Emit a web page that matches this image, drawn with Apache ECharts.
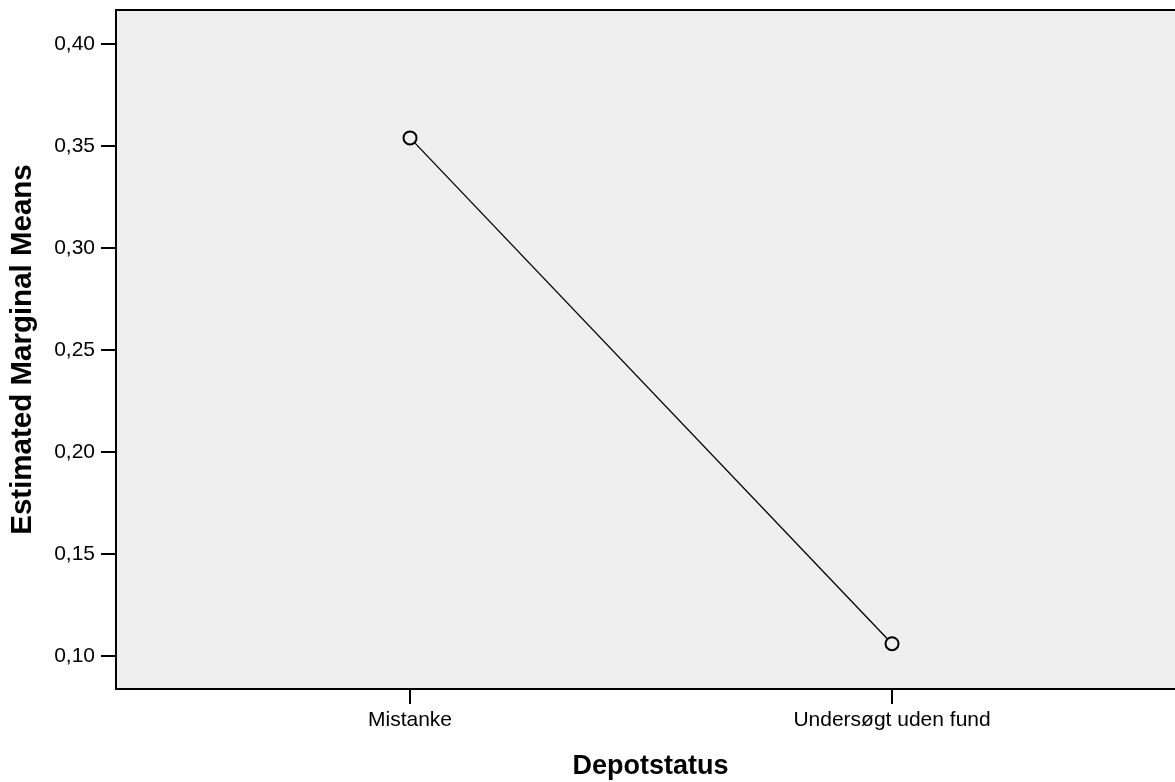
<!DOCTYPE html>
<html>
<head>
<meta charset="utf-8">
<script src="https://cdn.jsdelivr.net/npm/echarts@6/dist/echarts.min.js"></script>
<style>html,body{margin:0;padding:0;background:#fff;}#c{width:1175px;height:782px;}</style>
</head>
<body>
<div id="c"></div>
<script>
const categories = ['Mistanke', 'Undersøgt uden fund'];
const means = [0.354, 0.106];
const yTicks = [0.10, 0.15, 0.20, 0.25, 0.30, 0.35, 0.40];
const xTitle = 'Depotstatus';
const yTitle = 'Estimated Marginal Means';

const catPos = categories.map((c, i) => i + 1);
const data = means.map((v, i) => [catPos[i], v]);
const font = 'Arial, "Liberation Sans", Helvetica, sans-serif';

const chart = echarts.init(document.getElementById('c'));
chart.setOption({
  animation: false,
  backgroundColor: '#ffffff',
  grid: {
    left: 116, top: 10, right: -10, bottom: 93,
    outerBoundsMode: 'none', containLabel: false,
    show: true, backgroundColor: '#efefef', borderWidth: 0
  },
  xAxis: [{
    type: 'value', min: 0.39, max: 2.6078,
    name: xTitle, nameLocation: 'middle', nameGap: 64,
    nameTextStyle: { fontFamily: font, fontSize: 27, fontWeight: 'bold', color: '#000' },
    axisLine: { show: true, lineStyle: { color: '#000', width: 2 } },
    axisTick: { show: true, length: 15, customValues: catPos, lineStyle: { color: '#000', width: 2 } },
    axisLabel: {
      customValues: catPos, margin: 21,
      formatter: v => categories[Math.round(v) - 1] || '',
      fontFamily: font, fontSize: 21, color: '#000'
    },
    splitLine: { show: false }
  }, {
    type: 'value', position: 'top', min: 0.39, max: 2.6078,
    axisLine: { show: true, lineStyle: { color: '#000', width: 2 } },
    axisTick: { show: false }, axisLabel: { show: false }, splitLine: { show: false }
  }],
  yAxis: {
    type: 'value', min: 0.0838, max: 0.4167,
    name: yTitle, nameLocation: 'middle', nameGap: 78, nameRotate: 90,
    nameTextStyle: { fontFamily: font, fontSize: 29.5, fontWeight: 'bold', color: '#000' },
    axisLine: { show: true, lineStyle: { color: '#000', width: 2 } },
    axisTick: { show: true, length: 15, customValues: yTicks, lineStyle: { color: '#000', width: 2 } },
    axisLabel: {
      customValues: yTicks, margin: 21,
      formatter: v => v.toFixed(2).replace('.', ','),
      fontFamily: font, fontSize: 21, color: '#000'
    },
    splitLine: { show: false }
  },
  series: [{
    type: 'line', data: data,
    symbol: 'circle', symbolSize: 13,
    itemStyle: { color: '#efefef', borderColor: '#000', borderWidth: 2 },
    lineStyle: { color: '#000', width: 1.3 },
    z: 3
  }]
});
</script>
</body>
</html>
